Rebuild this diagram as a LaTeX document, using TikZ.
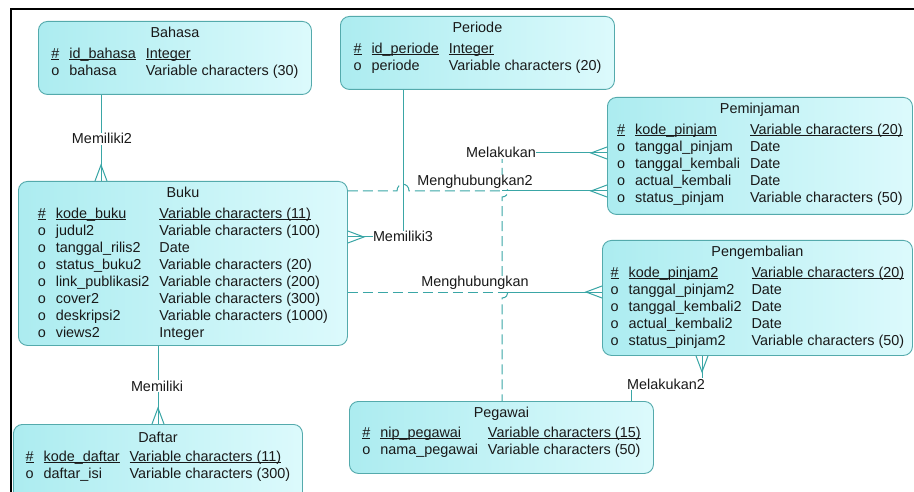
\documentclass[tikz,border=0pt]{standalone}
\usepackage{fontspec}
\setmainfont{Liberation Sans}
\usetikzlibrary{calc}
\definecolor{entb}{RGB}{84,170,172}
\definecolor{entl}{RGB}{172,236,240}
\definecolor{entr}{RGB}{220,250,252}
\definecolor{lnc}{RGB}{58,166,166}
\definecolor{txt}{RGB}{25,25,25}
\newcommand\pk[1]{\setbox0\hbox{#1}\rlap{\rule[-2pt]{\wd0}{0.8pt}}\box0}
\newcommand\etab[1]{\begin{tabular}{@{}l@{\hspace{10pt}}l@{\hspace{10pt}}l@{}}#1\end{tabular}}
\begin{document}
\begin{tikzpicture}[x=1pt,y=-1pt, font=\fontsize{14.4}{17}\selectfont,
  ent/.style={draw=entb, line width=0.9pt, rounded corners=9pt, left color=entl, right color=entr, anchor=north west, inner sep=0pt},
  conn/.style={draw=lnc, line width=1pt},
  optl/.style={conn, dash pattern=on 10pt off 5pt},
  lbl/.style={fill=white, inner sep=0.5pt, anchor=base, text=txt},
  cont/.style={anchor=north, inner sep=0pt, text=txt},
  crowfoot/.pic={\draw[conn] (-6,0) -- (0,-16) -- (6,0);}
]
\useasboundingbox (0,0) rectangle (914,492);
\clip (0,0) rectangle (914,492);
\fill[white] (0,0) rectangle (914,492);
\draw[line width=2pt] (11,500) -- (11,9) -- (920,9);

% entities
\node[ent, minimum width=273pt, minimum height=73pt] (bahasa) at (38,21) {};
\node[ent, minimum width=274pt, minimum height=73pt] (periode) at (340,16) {};
\node[ent, minimum width=305pt, minimum height=117pt] (peminjaman) at (607,97) {};
\node[ent, minimum width=329pt, minimum height=164pt] (buku) at (18,181) {};
\node[ent, minimum width=310pt, minimum height=115pt] (pengembalian) at (602,240) {};
\node[ent, minimum width=289pt, minimum height=80pt] (daftar) at (13,424) {};
\node[ent, minimum width=304pt, minimum height=72pt] (pegawai) at (349,401) {};

\node[cont] (bahasa-c) at ([yshift=-4pt]bahasa.north) {\etab{%
\multicolumn{3}{c}{Bahasa}\\[4pt]
\pk{\#} & \pk{id\_bahasa} & \pk{Integer}\\
o & bahasa & Variable characters (30)}};

\node[cont] (periode-c) at ([yshift=-4pt]periode.north) {\etab{%
\multicolumn{3}{c}{Periode}\\[4pt]
\pk{\#} & \pk{id\_periode} & \pk{Integer}\\
o & periode & Variable characters (20)}};

\node[cont] (peminjaman-c) at ([yshift=-4pt]peminjaman.north) {\etab{%
\multicolumn{3}{c}{Peminjaman}\\[4pt]
\pk{\#} & \pk{kode\_pinjam} & \pk{Variable characters (20)}\\
o & tanggal\_pinjam & Date\\
o & tanggal\_kembali & Date\\
o & actual\_kembali & Date\\
o & status\_pinjam & Variable characters (50)}};

\node[cont] (buku-c) at ([yshift=-4pt]buku.north) {\etab{%
\multicolumn{3}{c}{Buku}\\[4pt]
\pk{\#} & \pk{kode\_buku} & \pk{Variable characters (11)}\\
o & judul2 & Variable characters (100)\\
o & tanggal\_rilis2 & Date\\
o & status\_buku2 & Variable characters (20)\\
o & link\_publikasi2 & Variable characters (200)\\
o & cover2 & Variable characters (300)\\
o & deskripsi2 & Variable characters (1000)\\
o & views2 & Integer}};

\node[cont] (pengembalian-c) at ([yshift=-4pt]pengembalian.north) {\etab{%
\multicolumn{3}{c}{Pengembalian}\\[4pt]
\pk{\#} & \pk{kode\_pinjam2} & \pk{Variable characters (20)}\\
o & tanggal\_pinjam2 & Date\\
o & tanggal\_kembali2 & Date\\
o & actual\_kembali2 & Date\\
o & status\_pinjam2 & Variable characters (50)}};

\node[cont] (daftar-c) at ([yshift=-6pt]daftar.north) {\etab{%
\multicolumn{3}{c}{Daftar}\\[2pt]
\pk{\#} & \pk{kode\_daftar} & \pk{Variable characters (11)}\\
o & daftar\_isi & Variable characters (300)}};

\node[cont] (pegawai-c) at ([yshift=-4pt]pegawai.north) {\etab{%
\multicolumn{3}{c}{Pegawai}\\[3pt]
\pk{\#} & \pk{nip\_pegawai} & \pk{Variable characters (15)}\\
o & nama\_pegawai & Variable characters (50)}};

% Memiliki2 : Bahasa - Buku
\draw[conn] ($(bahasa.south west)+(63,0)$) -- ($(buku.north west)+(83,0)$);
\pic at ($(buku.north west)+(83,0)$) {crowfoot};

% Memiliki3 : Periode - Buku
\draw[conn] ($(periode.south west)+(63,0)$) |- ($(buku.north east)+(0,56)$);
\pic[rotate=-90] at ($(buku.north east)+(0,56)$) {crowfoot};

% Menghubungkan2 : Buku - Peminjaman
\draw[optl] ($(buku.north east)+(0,10)$) -- (397,191) .. controls (397,182) and (409,182) .. (409,191) -- (502,191);
\draw[conn] (502,191) -- ($(peminjaman.north west)+(0,94)$);
\pic[rotate=90] at ($(peminjaman.north west)+(0,94)$) {crowfoot};

% Menghubungkan : Buku - Pengembalian
\draw[optl] ($(buku.north east)+(0,111)$) -- (502,292);
\draw[conn] (502,292) -- ($(pengembalian.north west)+(0,52)$);
\pic[rotate=90] at ($(pengembalian.north west)+(0,52)$) {crowfoot};

% Melakukan : Pegawai - Peminjaman
\draw[conn] ($(peminjaman.north west)+(0,56)$) -- (502,153);
\draw[optl] (502,153) -- (502,185) .. controls (510,185) and (510,197) .. (502,197) -- (502,286) .. controls (510,286) and (510,298) .. (502,298) -- ($(pegawai.north west)+(153,0)$);
\pic[rotate=90] at ($(peminjaman.north west)+(0,56)$) {crowfoot};

% Melakukan2 : Pegawai - Pengembalian
\draw[conn] ($(pengembalian.south west)+(100,0)$) |- ($(pegawai.north west)+(282,-18)$) -- ($(pegawai.north west)+(282,0)$);
\pic[rotate=180] at ($(pengembalian.south west)+(100,0)$) {crowfoot};

% Memiliki : Buku - Daftar
\draw[conn] ($(buku.south west)+(140,0)$) -- ($(daftar.north west)+(145,0)$);
\pic at ($(daftar.north west)+(145,0)$) {crowfoot};

% labels
\node[lbl] (l-mem2) at (102,144) {Memiliki2};
\node[lbl] (l-mem3) at (403,242) {Memiliki3};
\node[lbl] (l-hub2) at (475,186) {Menghubungkan2};
\node[lbl] (l-hub) at (475,287) {Menghubungkan};
\node[lbl] (l-mel) at (501,158) {Melakukan};
\node[lbl] (l-mel2) at (666,389) {Melakukan2};
\node[lbl] (l-mem) at (157,391) {Memiliki};
\end{tikzpicture}
\end{document}
